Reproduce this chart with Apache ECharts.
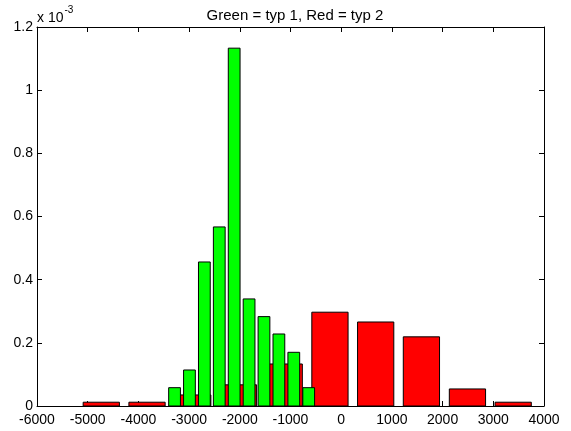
<!DOCTYPE html>
<html>
<head>
<meta charset="utf-8">
<script src="https://cdn.jsdelivr.net/npm/echarts@6/dist/echarts.min.js"></script>
<style>html,body{margin:0;padding:0;background:#fff}#c{width:571px;height:431px}</style>
</head>
<body>
<div id="c"></div>
<script>
// Values in units of 1e-3
const redCenters = [-4732, -3830, -2928, -2026, -1124, -222, 680, 1582, 2490, 3392];
const redValues  = [0.012, 0.012, 0.035, 0.067, 0.133, 0.297, 0.266, 0.219, 0.054, 0.012];
const greenCenters = [-3287, -2993, -2699, -2405, -2111, -1817, -1523, -1229, -935, -641];
const greenValues  = [0.058, 0.114, 0.456, 0.567, 1.133, 0.339, 0.283, 0.228, 0.170, 0.058];
const xTicks = [-6000, -5000, -4000, -3000, -2000, -1000, 0, 1000, 2000, 3000, 4000];
const yTicks = [0, 0.2, 0.4, 0.6, 0.8, 1, 1.2];

const RED_W = 715, GREEN_W = 232;
const FONT = 'Liberation Sans, Arial, sans-serif';

function barRender(width, color) {
  return function (params, api) {
    const x = api.value(0), y = api.value(1);
    const p1 = api.coord([x - width / 2, y]);
    const p2 = api.coord([x + width / 2, 0]);
    return {
      type: 'rect',
      shape: { x: p1[0], y: p1[1], width: p2[0] - p1[0], height: p2[1] - p1[1] },
      style: { fill: color, stroke: '#000', lineWidth: 1 }
    };
  };
}

const chart = echarts.init(document.getElementById('c'), null, { renderer: 'canvas' });
const axisLine = { show: true, onZero: false, lineStyle: { color: '#000', width: 1 } };
const tick = { show: true, inside: true, length: 5, lineStyle: { color: '#000' } };
chart.setOption({
  animation: false,
  backgroundColor: '#fff',
  title: {
    text: 'Green = typ 1, Red = typ 2',
    left: 290, top: 3, textAlign: 'center',
    textStyle: { fontFamily: FONT, fontSize: 15, fontWeight: 'normal', color: '#000' }
  },
  graphic: [{
    type: 'text', left: 37, top: 5,
    style: {
      text: '{a|x 10}{b|-3}',
      rich: {
        a: { fontFamily: FONT, fontSize: 14, fill: '#000', verticalAlign: 'bottom' },
        b: { fontFamily: FONT, fontSize: 10, fill: '#000', padding: [0, 0, 10, 1] }
      }
    }
  }],
  grid: { left: 37, right: 27, top: 27, bottom: 25, containLabel: false },
  xAxis: [{
    type: 'value', min: -6000, max: 4000, interval: 1000,
    axisLine: axisLine, axisTick: tick, splitLine: { show: false },
    axisLabel: { color: '#000', fontFamily: FONT, fontSize: 14, margin: 7,
      formatter: v => xTicks.includes(v) ? String(v) : '' }
  }, {
    type: 'value', position: 'top', min: -6000, max: 4000, interval: 1000,
    axisLine: axisLine, axisTick: tick, splitLine: { show: false }, axisLabel: { show: false }
  }],
  yAxis: [{
    type: 'value', min: 0, max: 1.2, interval: 0.2,
    axisLine: axisLine, axisTick: tick, splitLine: { show: false },
    axisLabel: { color: '#000', fontFamily: FONT, fontSize: 14, margin: 4,
      formatter: v => { const t = yTicks.find(k => Math.abs(k - v) < 1e-9); return t === undefined ? '' : String(t); } }
  }, {
    type: 'value', position: 'right', min: 0, max: 1.2, interval: 0.2,
    axisLine: axisLine, axisTick: tick, splitLine: { show: false }, axisLabel: { show: false }
  }],
  series: [{
    type: 'custom', name: 'typ 2',
    renderItem: barRender(RED_W, '#ff0000'),
    encode: { x: 0, y: 1 },
    data: redCenters.map((c, i) => [c, redValues[i]]),
    z: 2
  }, {
    type: 'custom', name: 'typ 1',
    renderItem: barRender(GREEN_W, '#00ff00'),
    encode: { x: 0, y: 1 },
    data: greenCenters.map((c, i) => [c, greenValues[i]]),
    z: 3
  }]
});
</script>
</body>
</html>
